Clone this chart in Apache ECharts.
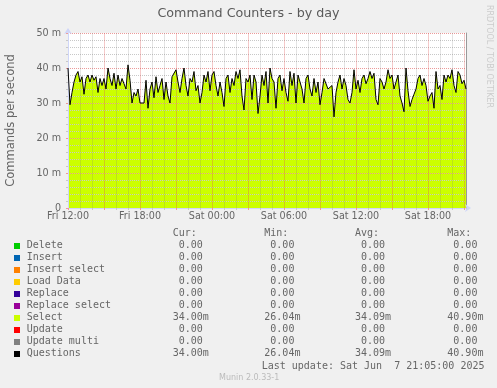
<!DOCTYPE html>
<html><head><meta charset="utf-8">
<script src="https://cdn.jsdelivr.net/npm/echarts@6/dist/echarts.min.js"></script>
<style>html,body{margin:0;padding:0;background:#f0f0f0}#c{width:497px;height:388px}</style>
</head><body><div id="c"></div><script>
// ---- data ----
const startHour = 12;          // Fri 12:00, hours since Fri 00:00
const stepMinutes = 10;
const endHour = 45 + 10 / 60;  // Sat 21:10 (right edge)
const selectValues = [
  40, 29.5, 33, 36, 38, 39, 36, 37.5, 32.5, 37, 38, 36, 38, 36.5, 37.5, 33, 37, 35, 37, 34,
  40, 37, 35, 38.5, 34, 38, 35, 37, 35.5, 34, 40.9, 36.5, 30, 33, 32, 34, 30, 29.5, 30, 36.5,
  28.5, 34, 36, 31.5, 37.5, 33, 35, 37, 31, 36, 32, 30,
  37.5, 37, 39.5, 36, 33, 37, 40, 35, 32, 37, 36, 39, 33.5, 35, 30, 33, 38, 36, 39, 33.5,
  38, 39, 35, 32, 36, 33, 29, 37, 38, 33, 37, 35, 39, 37, 39.5, 32, 28, 37, 36, 38,
  31, 38, 36, 27, 32, 38, 35, 39, 30, 40, 37, 36, 28.5, 37, 38, 33.5, 37, 33, 30.5, 39,
  35, 38.5, 30, 38, 36, 34, 30, 37, 38, 34, 32, 37, 33, 36, 29.5, 33, 37, 36.5, 34, 34,
  35, 26.04, 33, 36, 38, 34, 37, 35, 31, 30, 33, 39.5, 34, 36.5, 33, 37, 38, 35.5, 37, 39,
  37, 38.5, 31, 29.5, 37, 36, 34, 36, 39.5, 37, 38, 34, 36, 38, 32, 30, 27.5, 40, 33.5, 29,
  31, 32.5, 34, 37, 38, 35, 37, 35, 30.5, 32, 33, 28.5, 39, 34, 35, 31, 38, 36, 38, 37,
  39.5, 35, 33, 39, 38, 35.5, 36.5, 34
];
const questionsValues = selectValues.slice(); // identical to Select in the reference
const xTickHours = [12, 18, 24, 30, 36, 42];
const xTickLabels = ['Fri 12:00', 'Fri 18:00', 'Sat 00:00', 'Sat 06:00', 'Sat 12:00', 'Sat 18:00'];
const yTickValues = [0, 10, 20, 30, 40, 50];
const yTickLabels = ['0', '10 m', '20 m', '30 m', '40 m', '50 m'];
const legendNames = ['Delete', 'Insert', 'Insert select', 'Load Data', 'Replace', 'Replace select', 'Select', 'Update', 'Update multi', 'Questions'];
const legendColors = ['#00cc00', '#0066b3', '#ff8000', '#ffcc00', '#330099', '#990099', '#ccff00', '#ff0000', '#808080', '#000000'];
const curValues = ['0.00', '0.00', '0.00', '0.00', '0.00', '0.00', '34.00m', '0.00', '0.00', '34.00m'];
const minValues = ['0.00', '0.00', '0.00', '0.00', '0.00', '0.00', '26.04m', '0.00', '0.00', '26.04m'];
const avgValues = ['0.00', '0.00', '0.00', '0.00', '0.00', '0.00', '34.09m', '0.00', '0.00', '34.09m'];
const maxValues = ['0.00', '0.00', '0.00', '0.00', '0.00', '0.00', '40.90m', '0.00', '0.00', '40.90m'];
const columnHeaders = ['Cur:', 'Min:', 'Avg:', 'Max:'];
const titleText = 'Command Counters - by day';
const yAxisTitle = 'Commands per second';
const lastUpdate = 'Last update: Sat Jun  7 21:05:00 2025';
const footerText = 'Munin 2.0.33-1';
const sideText = 'RRDTOOL / TOBI OETIKER';

// ---- build ----
const toPairs = vals => vals.map((v, i) => [startHour + i * stepMinutes / 60, v]);
const RED = '#ec9a9a', GRAY = '#c8c8c8', AXIS = '#cfd6f8', FONT = '#666';
const RED_V = 'rgba(222,79,79,0.3)', GRAY_V = 'rgba(120,120,120,0.2)';
const xLabel = v => { const i = xTickHours.findIndex(h => Math.abs(h - v) < 1e-6); return i >= 0 ? xTickLabels[i] : ''; };
const yLabel = v => { const i = yTickValues.findIndex(h => Math.abs(h - v) < 1e-6); return i >= 0 ? yTickLabels[i] : ''; };

const mono = { fontFamily: 'DejaVu Sans Mono', fontSize: 10, fill: FONT, verticalAlign: 'middle', align: 'left' };
const txt = (x, y, s, extra) => ({ type: 'text', x, y, silent: true, style: Object.assign({ text: s }, mono, extra || {}) });
const graphics = [];
const colX = [172.7, 264.3, 355, 447.3];
const pad = s => (s.endsWith('m') ? s : ' ' + s);
columnHeaders.forEach((h, j) => graphics.push(txt(colX[j], 233.5, h)));
legendNames.forEach((n, i) => {
  const y = 245.7 + i * 12;
  graphics.push({ type: 'rect', silent: true, shape: { x: 14, y: Math.round(y) - 3, width: 6, height: 6 }, style: { fill: legendColors[i] } });
  graphics.push(txt(26.7, y, n));
  [curValues, minValues, avgValues, maxValues].forEach((arr, j) => graphics.push(txt(colX[j], y, pad(arr[i]))));
});
graphics.push(txt(261.7, 366, lastUpdate));
graphics.push(txt(219, 378, footerText, { fontFamily: 'DejaVu Sans', fontSize: 8, fill: '#bbb' }));
graphics.push({ type: 'text', x: 489, y: 56.5, rotation: -Math.PI / 2, silent: true,
  style: { text: sideText, fontFamily: 'DejaVu Sans', fontSize: 8, fill: '#ccc', align: 'center', verticalAlign: 'middle' } });

const chart = echarts.init(document.getElementById('c'), null, { renderer: 'canvas' });
chart.setOption({
  animation: false,
  backgroundColor: '#f0f0f0',
  textStyle: { fontFamily: 'DejaVu Sans' },
  title: { text: titleText, left: 'center', top: 7, padding: 0,
    textStyle: { fontSize: 12.7, fontWeight: 'normal', color: '#5a5a5a', lineHeight: 14 } },
  grid: { left: 68, right: 31, top: 33, bottom: 180, show: true, backgroundColor: '#ffffff', borderWidth: 0,
    containLabel: false, outerBoundsMode: 'none' },
  xAxis: [
    { type: 'value', min: startHour, max: endHour, interval: 3, zlevel: 1, position: 'bottom',
      axisLine: { show: true, lineStyle: { color: AXIS }, symbol: ['none', 'arrow'], symbolSize: [6, 6], symbolOffset: [0, 5] },
      axisTick: { show: true, length: 2, lineStyle: { color: RED } },
      minorTick: { show: true, splitNumber: 3, length: 2, lineStyle: { color: GRAY } },
      splitLine: { show: true, lineStyle: { color: RED_V, width: 1, type: 'solid' } },
      minorSplitLine: { show: true, lineStyle: { color: GRAY_V, width: 1, type: 'solid' } },
      axisLabel: { formatter: xLabel, color: FONT, fontSize: 9.6, margin: 3, showMaxLabel: false } }
  ],
  yAxis: [
    { type: 'value', min: 0, max: 50, interval: 10, zlevel: 1, position: 'left',
      axisLine: { show: true, lineStyle: { color: AXIS }, symbol: ['none', 'arrow'], symbolSize: [6, 6], symbolOffset: [0, 5] },
      axisTick: { show: true, length: 2, lineStyle: { color: RED } },
      minorTick: { show: true, splitNumber: 5, length: 2, lineStyle: { color: GRAY } },
      splitLine: { show: true, lineStyle: { color: RED, width: 1, type: [1, 1] } },
      minorSplitLine: { show: true, lineStyle: { color: GRAY, width: 1, type: [1, 1] } },
      axisLabel: { formatter: yLabel, color: FONT, fontSize: 9.6, margin: 7 },
      name: yAxisTitle, nameLocation: 'middle', nameGap: 51,
      nameTextStyle: { color: FONT, fontSize: 11.5, fontFamily: 'DejaVu Sans' } },
    { type: 'value', min: 0, max: 50, interval: 10, zlevel: 1, position: 'right',
      axisLine: { show: true, lineStyle: { color: '#999' } }, axisTick: { show: false },
      axisLabel: { show: false }, splitLine: { show: false } }
  ],
  series: [
    { type: 'line', name: 'Select', xAxisIndex: 0, yAxisIndex: 0, data: toPairs(selectValues), symbol: 'none',
      lineStyle: { width: 0 }, areaStyle: { color: '#ccff00', opacity: 1 }, zlevel: 0, z: 2, silent: true },
    { type: 'line', name: 'Questions', xAxisIndex: 0, yAxisIndex: 0, data: toPairs(questionsValues), symbol: 'none',
      lineStyle: { color: '#000', width: 1 }, zlevel: 2, silent: true }
  ],
  graphic: graphics
});
</script></body></html>
